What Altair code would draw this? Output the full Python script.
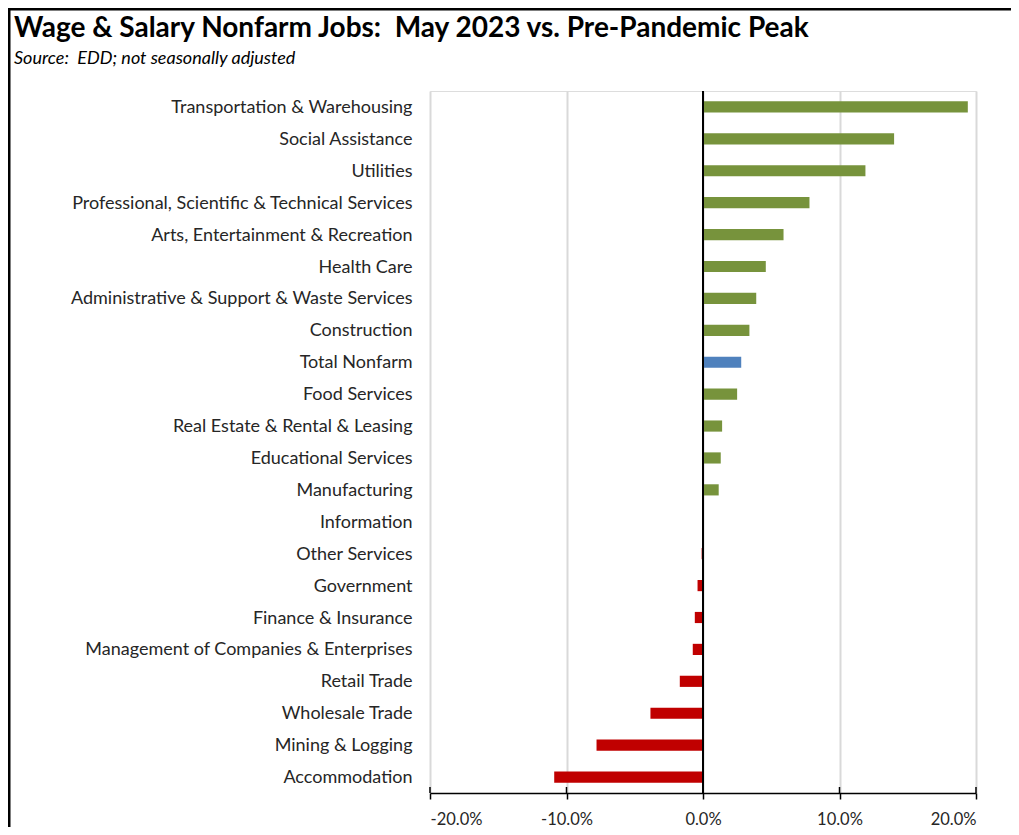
import altair as alt
import pandas as pd

categories = [
    "Transportation & Warehousing",
    "Social Assistance",
    "Utilities",
    "Professional, Scientific & Technical Services",
    "Arts, Entertainment & Recreation",
    "Health Care",
    "Administrative & Support & Waste Services",
    "Construction",
    "Total Nonfarm",
    "Food Services",
    "Real Estate & Rental & Leasing",
    "Educational Services",
    "Manufacturing",
    "Information",
    "Other Services",
    "Government",
    "Finance & Insurance",
    "Management of Companies & Enterprises",
    "Retail Trade",
    "Wholesale Trade",
    "Mining & Logging",
    "Accommodation",
]
values = [
    0.194, 0.140, 0.119, 0.078, 0.059, 0.046, 0.039, 0.034, 0.028, 0.025,
    0.014, 0.013, 0.0115, 0.0, -0.001, -0.004, -0.006, -0.0075, -0.017,
    -0.0385, -0.078, -0.109,
]
tick_values = [-0.2, -0.1, 0.0, 0.1, 0.2]
title_text = "Wage & Salary Nonfarm Jobs: \u00a0May 2023 vs. Pre-Pandemic Peak"
subtitle_text = "Source: \u00a0EDD; not seasonally adjusted"

def kind(c, v):
    if c == "Total Nonfarm":
        return "total"
    return "pos" if v >= 0 else "neg"

df = pd.DataFrame({
    "category": categories,
    "value": values,
    "kind": [kind(c, v) for c, v in zip(categories, values)],
})

W, H = 546, 702
PAD_L, PAD_T = 422, 83
FONT = "Lato"

x_scale = alt.Scale(domain=[-0.2, 0.2], nice=False, zero=False)

bars = alt.Chart(df).mark_bar().encode(
    x=alt.X("value:Q", scale=x_scale,
            axis=alt.Axis(values=tick_values, format=".1%", title=None,
                          labelExpr="replace(datum.label, '\u2212', '-')",
                          grid=True, gridColor="#D9D9D9", gridWidth=2,
                          domainColor="black", domainWidth=1.5,
                          ticks=True, tickColor="black", tickWidth=1.5, tickSize=6,
                          labelFont=FONT, labelFontSize=16.5, labelColor="#262626",
                          labelPadding=12)),
    y=alt.Y("category:N", sort=categories,
            scale=alt.Scale(paddingInner=0.65, paddingOuter=0.325),
            axis=alt.Axis(title=None, domain=False, ticks=False, grid=False,
                          labelFont=FONT, labelFontSize=18, labelColor="#262626",
                          labelPadding=18, labelLimit=0, labelOffset=1)),
    color=alt.Color("kind:N", legend=None,
                    scale=alt.Scale(domain=["pos", "neg", "total"],
                                    range=["#77933C", "#C00000", "#4F81BD"])),
)

one = alt.Data(values=[{"v": 0}])
zero_line = alt.Chart(one).mark_rule(color="black", strokeWidth=2).encode(
    x=alt.X("v:Q", scale=x_scale)
)

ticks_df = pd.DataFrame({"t": tick_values})
upper_ticks = alt.Chart(ticks_df).mark_rule(color="black", strokeWidth=1.5).encode(
    x=alt.X("t:Q", scale=x_scale),
    y=alt.value(H - 6),
    y2=alt.value(H),
)

title = alt.Chart(one).mark_text(
    text=title_text, font=FONT, fontSize=28, fontWeight="bold",
    align="left", baseline="alphabetic", color="black",
).encode(x=alt.value(14 - 430), y=alt.value(37 - 91))

subtitle = alt.Chart(one).mark_text(
    text=subtitle_text, font=FONT, fontSize=18, fontStyle="italic",
    align="left", baseline="alphabetic", color="black",
).encode(x=alt.value(14 - 430), y=alt.value(64 - 91))

frame_top = alt.Chart(one).mark_rule(color="black", strokeWidth=3).encode(
    x=alt.value(-PAD_L), x2=alt.value(W + 40), y=alt.value(-PAD_T + 1)
)
frame_left = alt.Chart(one).mark_rule(color="black", strokeWidth=3).encode(
    x=alt.value(-PAD_L + 1), y=alt.value(-PAD_T), y2=alt.value(H + 40)
)

chart = alt.layer(
    bars, zero_line, upper_ticks, title, subtitle, frame_top, frame_left
).properties(
    width=W, height=H,
    autosize=alt.AutoSizeParams(type="none"),
    padding={"left": PAD_L, "top": PAD_T, "right": 35, "bottom": 34},
).configure_view(stroke=None).configure(background="white")

chart.save("out.html", embed_options={"renderer": "svg", "actions": False})
